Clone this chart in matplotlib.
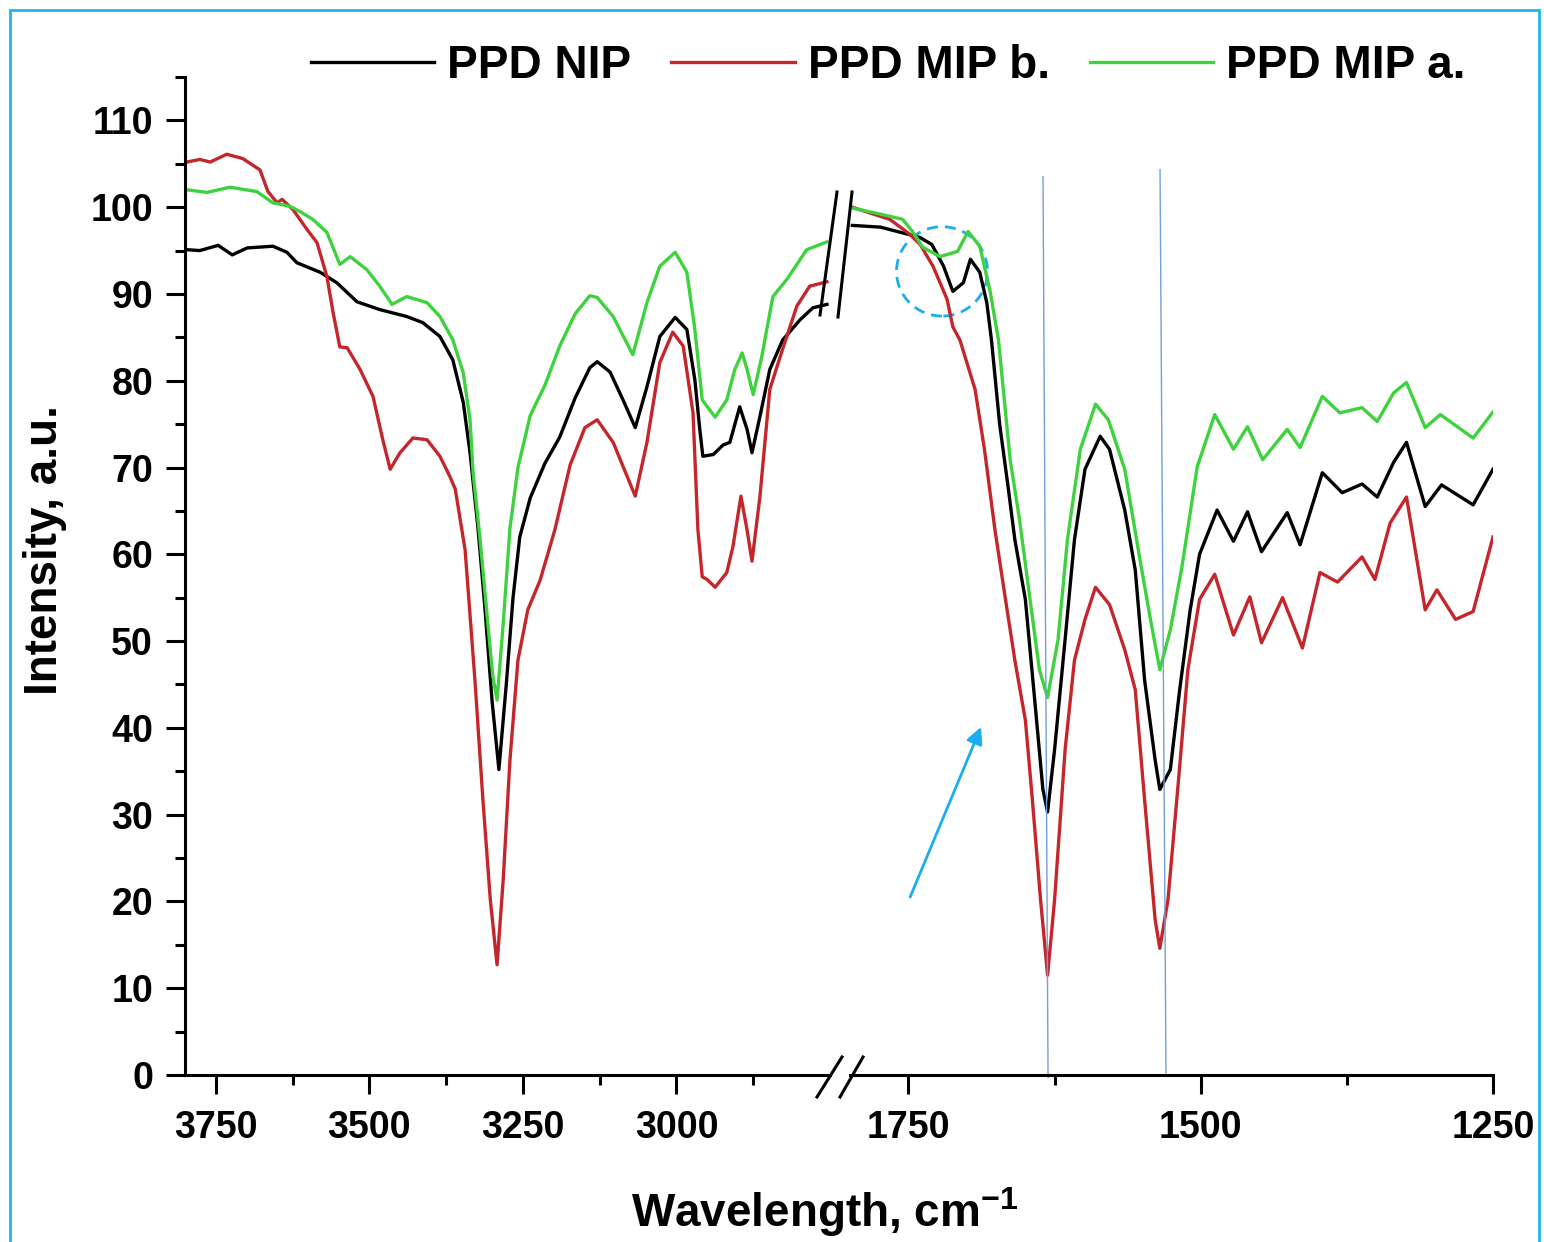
import numpy as np
import matplotlib
matplotlib.use("Agg")
import matplotlib.pyplot as plt
from matplotlib.lines import Line2D
from matplotlib.patches import Ellipse, Rectangle
from matplotlib.ticker import MultipleLocator, FixedLocator

plt.rcParams['font.family'] = ['Liberation Sans', 'DejaVu Sans']
plt.rcParams['font.weight'] = 'bold'
plt.rcParams['mathtext.fontset'] = 'custom'
plt.rcParams['mathtext.rm'] = 'Liberation Sans:bold'
plt.rcParams['mathtext.bf'] = 'Liberation Sans:bold'

# ---- data (wavenumber, intensity) ----
# high wavenumber segment 3800..2750
nip_hi_x = [3797, 3776, 3746, 3723, 3699, 3657, 3634, 3618, 3580, 3553, 3520, 3483, 3439, 3413,
            3385, 3364, 3347, 3336, 3323, 3312, 3300, 3289, 3277, 3266, 3255, 3238, 3214, 3190,
            3165, 3141, 3129, 3108, 3087, 3067, 3048, 3027, 3002, 2983, 2970, 2962, 2957, 2940,
            2924, 2913, 2897, 2885, 2877, 2864, 2848, 2827, 2799, 2778, 2755]
nip_hi_y = [95.1, 95.0, 95.6, 94.5, 95.3, 95.5, 94.8, 93.6, 92.5, 91.3, 89.1, 88.2, 87.4, 86.7,
            85.1, 82.4, 77.5, 71.7, 63.0, 54.0, 43.0, 35.2, 45.0, 55.0, 62.0, 66.5, 70.5, 73.5,
            78.0, 81.5, 82.2, 81.0, 77.8, 74.6, 79.3, 85.1, 87.3, 85.9, 80.1, 74.4, 71.3, 71.5,
            72.6, 72.9, 77.0, 74.4, 71.7, 75.9, 81.3, 84.7, 87.0, 88.4, 88.8]

mipb_hi_x = [3797, 3776, 3759, 3732, 3706, 3678, 3665, 3650, 3642, 3624, 3601, 3585, 3569, 3559,
             3548, 3536, 3515, 3494, 3478, 3466, 3450, 3429, 3406, 3385, 3369, 3360, 3344, 3328,
             3315, 3303, 3292, 3282, 3271, 3258, 3242, 3222, 3198, 3173, 3149, 3129, 3103, 3067,
             3048, 3027, 3006, 2989, 2973, 2965, 2958, 2950, 2937, 2918, 2908, 2895, 2885, 2877,
             2864, 2848, 2831, 2804, 2783, 2755]
mipb_hi_y = [105.2, 105.5, 105.2, 106.1, 105.6, 104.3, 101.8, 100.5, 100.9, 99.7, 97.4, 95.9, 92.0, 87.9,
             83.9, 83.8, 81.3, 78.2, 73.2, 69.8, 71.7, 73.4, 73.2, 71.3, 69.0, 67.5, 60.5, 45.5,
             31.7, 20.2, 12.7, 22.5, 36.3, 47.8, 53.6, 57.0, 62.8, 70.3, 74.6, 75.5, 72.9, 66.7,
             72.9, 82.1, 85.6, 84.0, 76.3, 62.8, 57.4, 57.1, 56.2, 57.9, 60.9, 66.7, 62.8, 59.2,
             66.7, 79.0, 82.8, 88.6, 90.9, 91.4]

mipa_hi_x = [3797, 3764, 3727, 3683, 3657, 3629, 3613, 3592, 3569, 3548, 3531, 3504, 3483, 3463,
             3439, 3406, 3385, 3364, 3347, 3336, 3331, 3320, 3307, 3299, 3292, 3282, 3271, 3258,
             3238, 3214, 3190, 3165, 3141, 3129, 3103, 3071, 3048, 3027, 3002, 2983, 2970, 2958,
             2937, 2918, 2905, 2893, 2885, 2875, 2861, 2843, 2820, 2788, 2755]
mipa_hi_y = [102.0, 101.7, 102.3, 101.8, 100.5, 100.1, 99.5, 98.6, 97.1, 93.4, 94.3, 92.8, 90.9, 88.8,
             89.7, 89.0, 87.4, 84.7, 80.9, 75.5, 69.4, 62.0, 52.0, 46.0, 43.2, 52.0, 63.0, 70.0,
             76.0, 79.5, 84.0, 87.7, 89.8, 89.6, 87.4, 83.0, 89.0, 93.2, 94.8, 92.5, 85.9, 77.8,
             75.8, 77.8, 81.3, 83.2, 81.3, 78.4, 82.8, 89.7, 91.7, 95.1, 96.0]

# low wavenumber segment 1800..1250
nip_lo_x = [1798, 1774, 1751, 1740, 1730, 1720, 1712, 1703, 1697, 1689, 1683, 1679, 1672, 1665,
            1659, 1650, 1642, 1635, 1631, 1625, 1616, 1608, 1599, 1586, 1578, 1565, 1556, 1548,
            1539, 1535, 1526, 1518, 1509, 1501, 1486, 1472, 1460, 1448, 1426, 1415, 1396, 1379,
            1362, 1349, 1335, 1324, 1308, 1294, 1267, 1250]
nip_lo_y = [97.9, 97.7, 96.9, 96.5, 95.7, 93.2, 90.3, 91.3, 94.0, 92.5, 89.0, 84.7, 75.0, 68.0,
            61.7, 54.8, 43.2, 32.9, 30.3, 37.5, 50.2, 61.7, 69.8, 73.6, 72.1, 65.1, 58.2, 45.5,
            36.3, 32.9, 35.2, 44.4, 53.6, 60.0, 65.1, 61.5, 64.9, 60.3, 64.8, 61.1, 69.4, 67.1,
            68.1, 66.6, 70.6, 72.9, 65.5, 68.0, 65.7, 69.8]

mipb_lo_x = [1798, 1780, 1766, 1749, 1740, 1729, 1717, 1712, 1706, 1693, 1685, 1676, 1667, 1659,
             1650, 1644, 1637, 1631, 1625, 1616, 1608, 1599, 1590, 1578, 1565, 1556, 1548, 1539,
             1535, 1528, 1519, 1511, 1501, 1488, 1472, 1458, 1448, 1430, 1413, 1398, 1383, 1362,
             1351, 1338, 1324, 1308, 1298, 1282, 1267, 1250]
mipb_lo_y = [100.0, 99.2, 98.6, 96.9, 95.7, 93.2, 89.4, 86.2, 84.7, 79.0, 72.1, 62.8, 54.8, 47.8,
             40.9, 31.7, 20.2, 11.5, 20.2, 37.5, 47.8, 52.5, 56.2, 54.2, 49.0, 44.4, 31.7, 17.9,
             14.6, 20.2, 34.0, 46.7, 54.8, 57.7, 50.7, 55.1, 49.8, 55.0, 49.2, 57.9, 56.8, 59.7,
             57.1, 63.6, 66.6, 53.6, 55.9, 52.5, 53.4, 62.0]

mipa_lo_x = [1798, 1774, 1755, 1746, 1738, 1723, 1708, 1699, 1689, 1680, 1673, 1663, 1655, 1646,
             1638, 1631, 1622, 1614, 1603, 1590, 1579, 1565, 1552, 1543, 1535, 1526, 1516, 1503,
             1488, 1472, 1460, 1447, 1426, 1415, 1396, 1381, 1362, 1349, 1335, 1324, 1308, 1295,
             1267, 1250]
mipa_lo_y = [99.9, 99.2, 98.6, 97.1, 95.4, 94.3, 94.9, 97.2, 95.5, 90.2, 84.7, 70.9, 64.0, 54.8,
             46.7, 43.5, 50.2, 61.7, 72.1, 77.3, 75.5, 69.8, 59.4, 52.5, 46.7, 51.3, 58.6, 70.1,
             76.1, 72.1, 74.7, 70.9, 74.4, 72.3, 78.2, 76.3, 76.9, 75.3, 78.6, 79.8, 74.6, 76.1,
             73.4, 76.4]

labels = ['PPD NIP', 'PPD MIP b.', 'PPD MIP a.']
colors = ['#000000', '#C4262B', '#3ED23E']
hi_ticks = [3750, 3500, 3250, 3000]
hi_minor = [3625, 3375, 3125, 2875]
lo_ticks = [1750, 1500, 1250]
lo_minor = [1625, 1375]

W, H = 1544, 1242
fig = plt.figure(figsize=(W / 100, H / 100), dpi=100)

def fx(px):
    return px / W

def fy(py):
    return 1 - py / H

ax1 = fig.add_axes([fx(185), fy(1075), fx(830) - fx(185), fy(77) - fy(1075)])
ax2 = fig.add_axes([fx(850), fy(1075), fx(1493) - fx(850), fy(77) - fy(1075)])

lw = 2.4
hi = [(nip_hi_x, nip_hi_y), (mipb_hi_x, mipb_hi_y), (mipa_hi_x, mipa_hi_y)]
lo = [(nip_lo_x, nip_lo_y), (mipb_lo_x, mipb_lo_y), (mipa_lo_x, mipa_lo_y)]
handles = []
for (x, y), lab, c in zip(hi, labels, colors):
    h, = ax1.plot(x, y, color=c, lw=lw, label=lab, solid_joinstyle='round')
    handles.append(h)
for (x, y), c in zip(lo, colors):
    ax2.plot(x, y, color=c, lw=lw, solid_joinstyle='round')

ax1.set_xlim(3800, 2750)
ax2.set_xlim(1800, 1250)
ax1.xaxis.set_major_locator(FixedLocator(hi_ticks))
ax1.xaxis.set_minor_locator(FixedLocator(hi_minor))
ax2.xaxis.set_major_locator(FixedLocator(lo_ticks))
ax2.xaxis.set_minor_locator(FixedLocator(lo_minor))
for ax in (ax1, ax2):
    ax.set_ylim(0, 115)
    ax.spines['top'].set_visible(False)
    ax.spines['right'].set_visible(False)
    ax.spines['bottom'].set_linewidth(2.2)
    ax.spines['left'].set_linewidth(2.2)
    ax.tick_params(which='major', direction='out', length=14, width=2.2, labelsize=27, pad=11)
    ax.tick_params(which='minor', direction='out', length=7, width=2.2)
    for t in ax.get_xticklabels():
        t.set_fontweight('bold')

ax1.yaxis.set_major_locator(MultipleLocator(10))
ax1.yaxis.set_minor_locator(MultipleLocator(5))
ax1.tick_params(axis='y', which='major', pad=9)
for t in ax1.get_yticklabels():
    t.set_fontweight('bold')

ax2.spines['left'].set_visible(False)
ax2.tick_params(axis='y', which='both', left=False, labelleft=False)

# axis titles
fig.text(fx(825), fy(1212), r'Wavelength, cm$^{\mathbf{-1}}$', ha='center', va='center',
         fontsize=33, fontweight='bold')
fig.text(fx(45), fy(550), 'Intensity, a.u.', ha='center', va='center', rotation=90,
         fontsize=33, fontweight='bold')

# legend
fig.legend(handles=handles, labels=labels, loc='center', bbox_to_anchor=(fx(888), fy(66)),
           ncol=3, frameon=False, handlelength=2.7, handletextpad=0.28,
           columnspacing=0.87, prop={'weight': 'bold', 'size': 33})

# break marks
for (x0, y0, x1, y1) in [(837, 192, 820, 315), (852, 192, 838, 317),
                         (817, 1097, 842, 1057), (840, 1097, 863, 1057)]:
    fig.add_artist(Line2D([fx(x0), fx(x1)], [fy(y0), fy(y1)], color='black', lw=2.2,
                          transform=fig.transFigure))

# annotations on the low segment
ax2.plot([1634.9, 1630.6], [103.5, -0.3], color='#6FA0DC', lw=1.0, clip_on=False)
ax2.plot([1534.8, 1529.7], [104.3, 0], color='#6FA0DC', lw=1.0, clip_on=False)
ax2.add_patch(Ellipse((1721.3, 92.6), 77.8, 10.3, fill=False, edgecolor='#1AAEEF', lw=2,
                      linestyle=(0, (4, 2.5))))
ax2.annotate('', xy=(1687, 40.4), xytext=(1749.5, 20.2),
             arrowprops=dict(arrowstyle='-|>', color='#1AAEEF', lw=2, mutation_scale=25))

# frame round the picture
fig.patches.append(Rectangle((fx(10), -0.01), fx(1539) - fx(10), fy(10) + 0.01, fill=False,
                             edgecolor='#1FB5F0', lw=2, transform=fig.transFigure))

fig.savefig('out.png', dpi=100)
